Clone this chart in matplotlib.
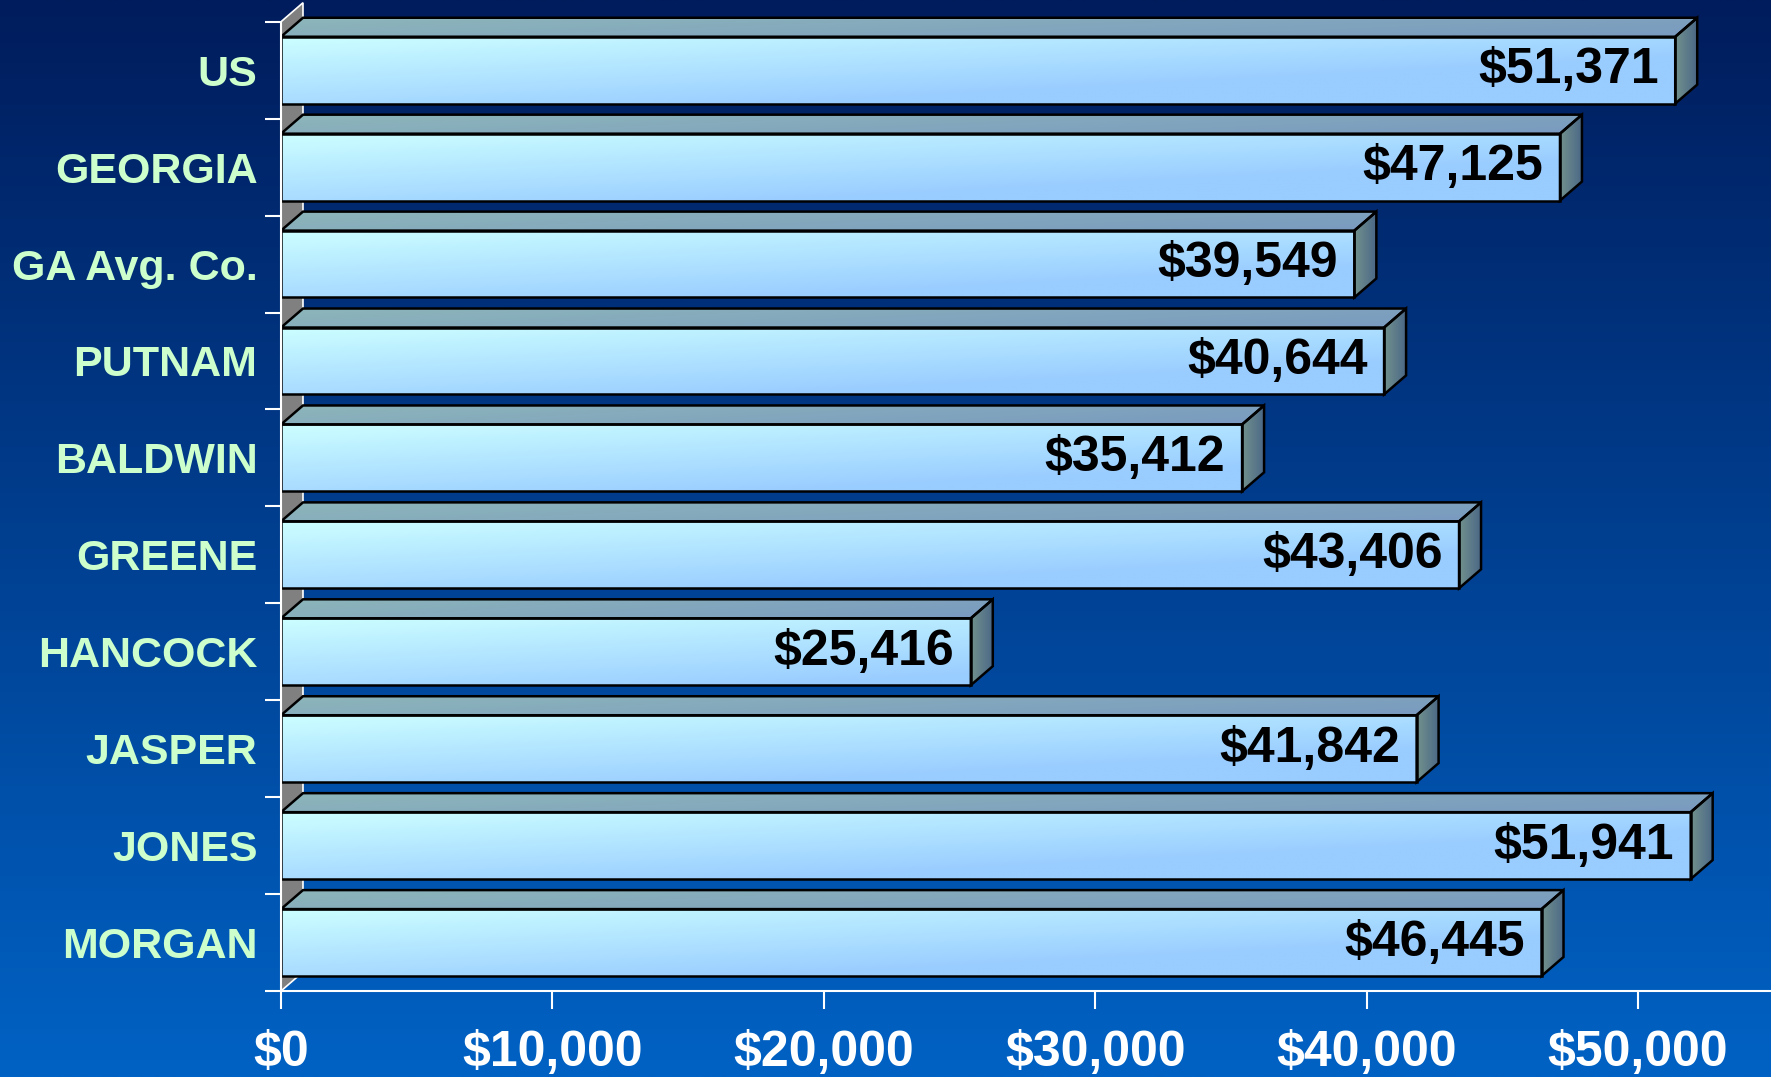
import matplotlib

matplotlib.use("Agg")
import matplotlib.pyplot as plt
import numpy as np
from matplotlib.patches import Polygon


categories = ["US", "GEORGIA", "GA Avg. Co.", "PUTNAM", "BALDWIN",
              "GREENE", "HANCOCK", "JASPER", "JONES", "MORGAN"]
incomes = [51371, 47125, 39549, 40644, 35412, 43406, 25416, 41842, 51941, 46445]
x_ticks = [0, 10000, 20000, 30000, 40000, 50000]
x_tick_labels = ["$0", "$10,000", "$20,000", "$30,000", "$40,000", "$50,000"]

X_MAX = 54900
BAR_HALF = 0.345
DEPTH_X = 810      # 3d offset, data units along x
DEPTH_Y = 0.196    # 3d offset, category units (upwards)

BG_TOP = (0 / 255, 28 / 255, 92 / 255)
BG_BOTTOM = (0 / 255, 98 / 255, 196 / 255)
FACE_LIGHT = (0.80, 1.00, 1.00)
FACE_DARK = (0.60, 0.80, 1.00)
TOP_LEFT = (0.55, 0.71, 0.73)
TOP_RIGHT = (0.48, 0.61, 0.75)
SIDE_LEFT = (0.44, 0.57, 0.55)
SIDE_RIGHT = (0.30, 0.41, 0.53)
LABEL_GREEN = "#ccffcc"

plt.rcParams["font.family"] = ["Liberation Sans", "DejaVu Sans"]
plt.rcParams["font.weight"] = "bold"


def blend(c0, c1, t):
    c0 = np.asarray(c0)
    c1 = np.asarray(c1)
    return c0 + (c1 - c0) * t[..., None]


def shaded_polygon(ax, verts, image, extent, zorder):
    poly = Polygon(verts, closed=True, facecolor="none", edgecolor="black",
                   linewidth=1.8, joinstyle="miter", zorder=zorder + 0.5)
    ax.add_patch(poly)
    im = ax.imshow(image, extent=extent, aspect="auto", interpolation="bilinear",
                   zorder=zorder)
    im.set_clip_path(poly)
    return poly


def draw_bar(ax, center, value):
    top = center - BAR_HALF
    bottom = center + BAR_HALF

    # front face: diagonal light cyan -> light blue
    xs = np.linspace(0, value, 300)
    ydown = np.linspace(0, 1, 60)
    t = np.clip(0.7 * ydown[:, None] + 0.75 * xs[None, :] / 50000, 0, 1)
    shaded_polygon(ax, [(0, top), (value, top), (value, bottom), (0, bottom)],
                   blend(FACE_LIGHT, FACE_DARK, t), (0, value, bottom, top), 3)

    # top face, slightly lighter towards the back
    xs = np.linspace(0, 1, 200)
    ys = np.linspace(0, 1, 10)
    t = np.clip(0.8 * xs[None, :] + 0.25 * ys[:, None], 0, 1)
    shaded_polygon(ax, [(0, top), (value, top), (value + DEPTH_X, top - DEPTH_Y),
                        (DEPTH_X, top - DEPTH_Y)],
                   blend(TOP_LEFT, TOP_RIGHT, t),
                   (0, value + DEPTH_X, top, top - DEPTH_Y), 3)

    # right end face
    t = np.linspace(0, 1, 20)[None, :].repeat(2, axis=0)
    shaded_polygon(ax, [(value, top), (value + DEPTH_X, top - DEPTH_Y),
                        (value + DEPTH_X, bottom - DEPTH_Y), (value, bottom)],
                   blend(SIDE_LEFT, SIDE_RIGHT, t),
                   (value, value + DEPTH_X, bottom, top - DEPTH_Y), 3)

    ax.annotate(f"${value:,}", (value, center), xytext=(-12, 0),
                textcoords="offset points", ha="right", va="center",
                fontsize=36, fontweight="bold", color="black", zorder=6)


def main():
    fig = plt.figure(figsize=(17.71, 10.77), dpi=100)

    bg = fig.add_axes([0, 0, 1, 1], zorder=-1)
    grad = blend(BG_TOP, BG_BOTTOM, np.linspace(0, 1, 256)[:, None].repeat(2, axis=1))
    bg.imshow(grad, aspect="auto", extent=(0, 1, 0, 1), interpolation="bilinear")
    bg.axis("off")

    ax = fig.add_axes([0.15867, 0.07985, 0.84133, 0.91978])
    ax.set_facecolor("none")

    n = len(categories)
    wall = Polygon([(0, n), (0, 0), (DEPTH_X, -DEPTH_Y), (DEPTH_X, n - DEPTH_Y)],
                   closed=True, facecolor="#808080", edgecolor="white",
                   linewidth=1.2, zorder=1)
    ax.add_patch(wall)

    for i, value in enumerate(incomes):
        draw_bar(ax, i + 0.5, value)

    ax.set_xlim(0, X_MAX)
    ax.set_ylim(n, -0.22)

    for side in ("top", "right"):
        ax.spines[side].set_visible(False)
    for side in ("left", "bottom"):
        ax.spines[side].set_color("white")
        ax.spines[side].set_linewidth(1.5)
        ax.spines[side].set_zorder(7)
    ax.spines["left"].set_bounds(0, n)

    ax.set_xticks(x_ticks)
    ax.set_xticklabels(x_tick_labels)
    ax.tick_params(axis="x", colors="white", length=13, width=1.5, pad=15,
                   labelsize=36)

    ax.set_yticks(range(n + 1))
    ax.set_yticklabels([])
    ax.set_yticks([i + 0.5 for i in range(n)], minor=True)
    ax.set_yticklabels(categories, minor=True)
    ax.tick_params(axis="y", which="major", colors="white", length=11.5, width=1.5)
    ax.tick_params(axis="y", which="minor", length=0, pad=17, labelsize=31,
                   labelcolor=LABEL_GREEN)

    fig.savefig("out.png", dpi=100)
    plt.close(fig)


if __name__ == "__main__":
    main()
